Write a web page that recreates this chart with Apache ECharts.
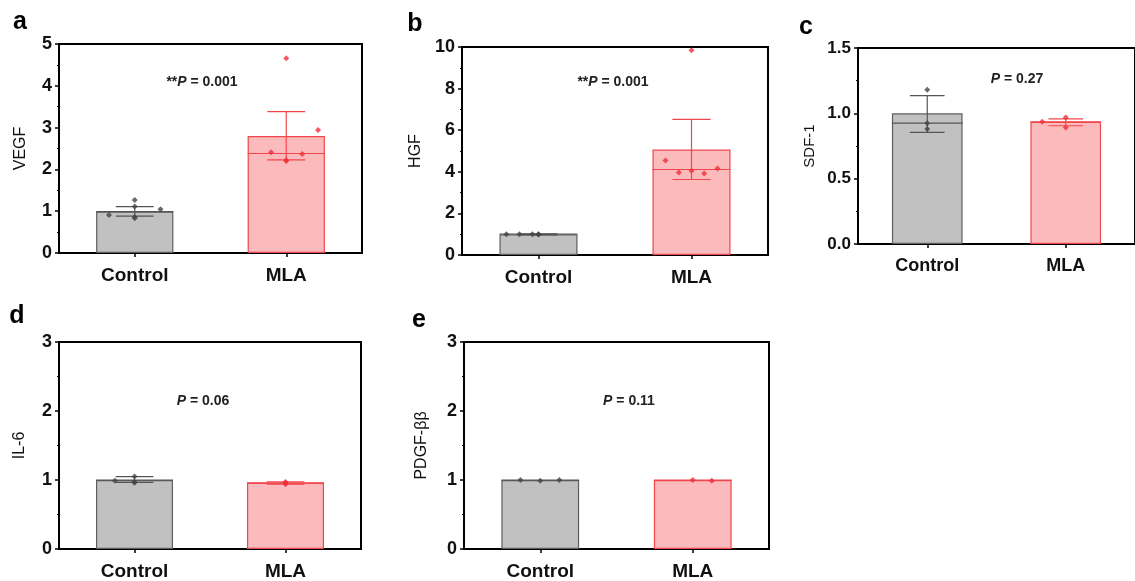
<!DOCTYPE html>
<html><head><meta charset="utf-8">
<script src="https://cdn.jsdelivr.net/npm/echarts@6/dist/echarts.min.js"></script>
<style>html,body{margin:0;padding:0;background:#fff}#c{width:1135px;height:581px}</style>
</head><body><div id="c"></div>
<script>
const categories = ['Control', 'MLA'];
const panelLetters = ['a', 'b', 'c', 'd', 'e'];
const yNames = ['VEGF', 'HGF', 'SDF-1', 'IL-6', 'PDGF-ββ'];
const yMax = [5, 10, 1.5, 3, 3];
const yInterval = [1, 2, 0.5, 1, 1];
const pStars = ['**', '**', '', '', ''];
const pValues = ['0.001', '0.001', '0.27', '0.06', '0.11'];

// bar heights (mean), median line, whisker low / high  [Control, MLA]
const vegfMean = [0.99, 2.80], vegfMedian = [0.99, 2.38], vegfLow = [0.88, 2.23], vegfHigh = [1.11, 3.38];
const hgfMean = [0.99, 5.07], hgfMedian = [1.0, 4.11], hgfLow = [0.97, 3.63], hgfHigh = [1.02, 6.52];
const sdfMean = [1.0, 0.935], sdfMedian = [0.925, 0.935], sdfLow = [0.855, 0.905], sdfHigh = [1.135, 0.958];
const il6Mean = [1.0, 0.96], il6Median = [1.0, 0.96], il6Low = [0.965, 0.94], il6High = [1.05, 0.975];
const pdgfMean = [1.0, 1.0], pdgfMedian = [1.0, 1.0], pdgfLow = [1.0, 1.0], pdgfHigh = [1.0, 1.0];

// individual points: [value, horizontal jitter in category units]
const vegfCtrlPts = [[1.27, 0], [1.11, 0], [0.91, -0.17], [0.83, 0], [0.86, 0], [1.045, 0.17]];
const vegfMlaPts = [[4.66, 0], [2.94, 0.21], [2.41, -0.1], [2.37, 0.105], [2.22, 0], [2.20, 0]];
const hgfCtrlPts = [[1.0, -0.21], [1.0, -0.125], [1.0, -0.04], [1.0, 0], [0.98, 0]];
const hgfMlaPts = [[9.84, 0], [4.54, -0.17], [3.97, -0.083], [4.05, 0], [3.92, 0.083], [4.16, 0.17]];
const sdfCtrlPts = [[1.18, 0], [0.925, 0], [0.88, 0]];
const sdfMlaPts = [[0.935, -0.17], [0.969, 0], [0.892, 0]];
const il6CtrlPts = [[1.05, 0], [0.99, -0.13], [0.97, 0], [0.96, 0]];
const il6MlaPts = [[0.97, 0], [0.955, 0], [0.94, 0]];
const pdgfCtrlPts = [[1.0, -0.13], [0.99, 0], [1.0, 0.125]];
const pdgfMlaPts = [[1.0, 0], [0.99, 0.125]];

const means = [vegfMean, hgfMean, sdfMean, il6Mean, pdgfMean];
const medians = [vegfMedian, hgfMedian, sdfMedian, il6Median, pdgfMedian];
const lows = [vegfLow, hgfLow, sdfLow, il6Low, pdgfLow];
const highs = [vegfHigh, hgfHigh, sdfHigh, il6High, pdgfHigh];
const ctrlPts = [vegfCtrlPts, hgfCtrlPts, sdfCtrlPts, il6CtrlPts, pdgfCtrlPts];
const mlaPts = [vegfMlaPts, hgfMlaPts, sdfMlaPts, il6MlaPts, pdgfMlaPts];

// layout
const grids = [
  {left: 59, top: 44, width: 303, height: 209},
  {left: 462, top: 47, width: 306, height: 208},
  {left: 858, top: 48, width: 284, height: 196},
  {left: 59, top: 342, width: 302, height: 207},
  {left: 464, top: 342, width: 305, height: 207}
];
const nameGaps = [30, 38, 41, 31, 34];
const fontScale = [1, 1, 0.94, 1, 1];
const letterPos = [[20, 22], [415, 24], [806, 27], [17, 316], [419, 320]];
const pPos = [[202, 82], [613, 82], [1017, 79], [203, 401], [629, 401]];

const FONT = '"Liberation Sans", Arial, Helvetica, sans-serif';
const ctrlFill = '#c1c1c1', ctrlBorder = '#5e5e5e', ctrlLine = '#555555', ctrlPt = '#454545';
const mlaFill = '#fbbbbd', mlaBorder = '#f0474d', mlaLine = '#f0474d', mlaPt = '#ef2f37';

const option = {
  animation: false,
  backgroundColor: '#fff',
  grid: [], xAxis: [], yAxis: [], series: [], graphic: []
};

for (let i = 0; i < 5; i++) {
  const fs = fontScale[i];
  option.grid.push(Object.assign({show: true, borderColor: '#000', borderWidth: 2, backgroundColor: 'transparent', containLabel: false}, grids[i]));
  option.xAxis.push({
    type: 'category', gridIndex: i, data: categories,
    axisLine: {onZero: false, lineStyle: {color: '#000', width: 2}},
    axisTick: {show: true, alignWithLabel: true, length: 4, lineStyle: {color: '#000', width: 1.5}},
    axisLabel: {color: '#111', fontFamily: FONT, fontWeight: 'bold', fontSize: Math.round(19 * fs), margin: 13},
    splitLine: {show: false}
  });
  option.yAxis.push({
    type: 'value', gridIndex: i, min: 0, max: yMax[i], interval: yInterval[i],
    name: yNames[i], nameLocation: 'middle', nameGap: nameGaps[i],
    nameTextStyle: {color: '#111', fontFamily: FONT, fontSize: Math.round(16 * fs)},
    axisLine: {show: true, onZero: false, lineStyle: {color: '#000', width: 2}},
    axisTick: {show: true, length: 4, lineStyle: {color: '#000', width: 1.5}},
    minorTick: {show: true, splitNumber: 2, length: 2, lineStyle: {color: '#000', width: 1.2}},
    axisLabel: {color: '#111', fontFamily: FONT, fontWeight: 'bold', fontSize: Math.round(18 * fs), margin: 7,
      formatter: v => (yInterval[i] < 1 ? v.toFixed(1) : String(v))},
    splitLine: {show: false}
  });
}
// hidden value x axes for jittered points
for (let i = 0; i < 5; i++) {
  option.xAxis.push({type: 'value', gridIndex: i, min: -0.5, max: 1.5, show: false,
    axisLine: {show: false, onZero: false}, axisTick: {show: false}, axisLabel: {show: false}, splitLine: {show: false}});
}

function errRender(params, api) {
  const x = api.value(0), lo = api.value(1), hi = api.value(2), med = api.value(3);
  const band = api.size([1, 0])[0];
  const cap = band * 0.125, half = band * 0.255;
  const col = x === 0 ? ctrlLine : mlaLine;
  const pLo = api.coord([x, lo]), pHi = api.coord([x, hi]), pMed = api.coord([x, med]);
  const st = {stroke: col, lineWidth: 1.2};
  const children = [];
  if (hi > lo) {
    children.push({type: 'line', shape: {x1: pLo[0], y1: pLo[1], x2: pHi[0], y2: pHi[1]}, style: st});
    children.push({type: 'line', shape: {x1: pHi[0] - cap, y1: pHi[1], x2: pHi[0] + cap, y2: pHi[1]}, style: st});
    children.push({type: 'line', shape: {x1: pLo[0] - cap, y1: pLo[1], x2: pLo[0] + cap, y2: pLo[1]}, style: st});
  }
  children.push({type: 'line', shape: {x1: pMed[0] - half, y1: pMed[1], x2: pMed[0] + half, y2: pMed[1]}, style: st});
  return {type: 'group', children: children};
}

for (let i = 0; i < 5; i++) {
  option.series.push({
    type: 'bar', xAxisIndex: i, yAxisIndex: i, barWidth: '51%',
    data: means[i].map((v, k) => ({
      value: v,
      itemStyle: {color: k === 0 ? ctrlFill : mlaFill, borderColor: k === 0 ? ctrlBorder : mlaBorder, borderWidth: 1.2}
    })),
    z: 2
  });
  option.series.push({
    type: 'custom', xAxisIndex: i, yAxisIndex: i, renderItem: errRender,
    data: [0, 1].map(k => [k, lows[i][k], highs[i][k], medians[i][k]]),
    z: 3
  });
  option.series.push({
    type: 'scatter', xAxisIndex: 5 + i, yAxisIndex: i, symbol: 'diamond', symbolSize: 6,
    itemStyle: {color: ctrlPt}, data: ctrlPts[i].map(p => [0 + p[1], p[0]]), z: 4
  });
  option.series.push({
    type: 'scatter', xAxisIndex: 5 + i, yAxisIndex: i, symbol: 'diamond', symbolSize: 6,
    itemStyle: {color: mlaPt}, data: mlaPts[i].map(p => [1 + p[1], p[0]]), z: 4
  });

  option.graphic.push({
    type: 'text', x: letterPos[i][0], y: letterPos[i][1],
    style: {text: panelLetters[i], font: 'bold 25px ' + FONT, fill: '#000', textAlign: 'center', textVerticalAlign: 'middle'}
  });
  const fsz = 14;
  option.graphic.push({
    type: 'text', x: pPos[i][0], y: pPos[i][1],
    style: {
      text: (pStars[i] ? '{s|' + pStars[i] + '}' : '') + '{i|P}{n| = ' + pValues[i] + '}',
      rich: {
        s: {font: 'bold ' + fsz + 'px ' + FONT, fill: '#222'},
        i: {font: 'italic bold ' + fsz + 'px ' + FONT, fill: '#222'},
        n: {font: 'bold ' + fsz + 'px ' + FONT, fill: '#222'}
      },
      textAlign: 'center', textVerticalAlign: 'middle'
    }
  });
}

const chart = echarts.init(document.getElementById('c'), null, {renderer: 'canvas'});
chart.setOption(option);
</script>
</body></html>
